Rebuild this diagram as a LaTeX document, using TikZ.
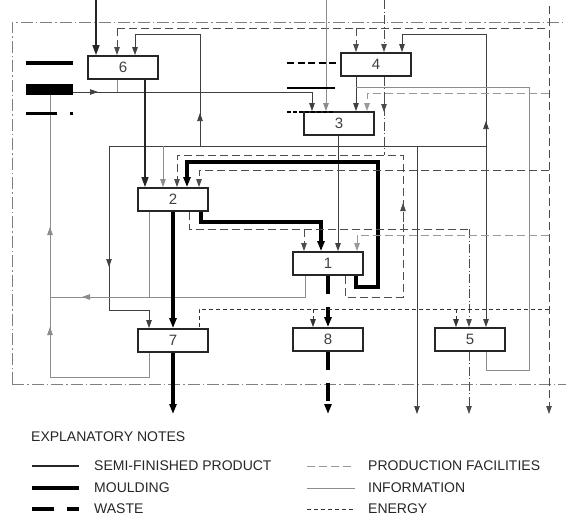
\documentclass[tikz,border=0pt]{standalone}
\usepackage{fontspec}
\setmainfont{Liberation Sans}
\usetikzlibrary{arrows.meta}
\pgfdeclarelayer{bg}
\pgfsetlayers{bg,main}
\begin{document}
\begin{tikzpicture}[x=1pt,y=-1pt,
  box/.style={draw=black!85, line width=1.8pt, fill=white, minimum width=70pt, minimum height=23pt, inner sep=0pt, font=\fontsize{15}{15}\selectfont, text=black!75},
  arr/.style={-{Triangle[length=8pt,width=5.5pt]}},
  arrM/.style={-{Triangle[length=10pt,width=7pt]}},
  semi/.style={line width=1.6pt, draw=black!85},
  mould/.style={line width=3.5pt, draw=black},
  waste/.style={line width=3.5pt, draw=black, dash pattern=on 18pt off 13pt},
  info/.style={line width=0.7pt, draw=black!75},
  infog/.style={line width=0.8pt, draw=black!45},
  pf/.style={line width=0.8pt, draw=black!70, dash pattern=on 8pt off 4pt},
  pfg/.style={line width=1pt, draw=black!40, dash pattern=on 8pt off 4pt},
  en/.style={line width=0.7pt, draw=black!80, dash pattern=on 4pt off 3pt},
  dd/.style={line width=0.8pt, draw=black!70, dash pattern=on 9pt off 2.5pt on 1pt off 2.5pt},
  frame/.style={line width=0.9pt, draw=black!50, dash pattern=on 12pt off 3pt on 1.5pt off 3pt},
  lbl/.style={anchor=west, inner sep=0pt, font=\fontsize{14}{14}\selectfont, text=black!85}
]
\useasboundingbox (0,0) rectangle (566,517);

% boxes
\node[box] (b6) at (123,67.5) {6};
\node[box] (b4) at (376,64.5) {4};
\node[box] (b3) at (339,123.5) {3};
\node[box] (b2) at (173,199.5) {2};
\node[box] (b1) at (328,263.5) {1};
\node[box] (b7) at (173,340.5) {7};
\node[box] (b8) at (328,339.5) {8};
\node[box] (b5) at (470,339.5) {5};

\begin{pgfonlayer}{bg}
% frame
\draw[frame] (12,384) -- (12,22) -- (563,22);
\draw[frame] (12,384) -- (566,384);

% top inputs
\draw[semi, arrM] (96,0) -- (96,0 |- b6.north);
\draw[pf] (117,28) -- (549,28);
\draw[pf, arr] (117,28) -- (117,0 |- b6.north);
\draw[pf, arr] (356,28) -- (356,0 |- b4.north);
\draw[pf, arr] (549,6) -- (549,414);
\draw[infog, arr] (326,0) -- (326,0 |- b3.north);
\draw[dd, arr] (384,0) -- (384,0 |- b4.north);
\draw[dd] (384,0 |- b4.south) -- (384,155);
\draw[dd, arr] (384,95) -- (384,112);

% information bus
\draw[info] (109,146) -- (486,146);
\draw[info, arr] (200,146) -- (200,34) -- (135,34) -- (135,0 |- b6.north);
\draw[info, arr] (200,135) -- (200,113);
\draw[info, arr] (486,146) -- (486,34) -- (402,34) -- (402,0 |- b4.north);
\draw[info, arr] (486,140) -- (486,121);
\draw[info, arr] (486,146) -- (486,0 |- b5.north);
\draw[info, arr] (109,146) -- (109,310) -- (149,310) -- (149,0 |- b7.north);
\draw[info, arr] (109,250) -- (109,267);
\draw[infog, arr] (163,146) -- (163,0 |- b2.north);
\draw[info, arr] (417,146) -- (417,414);

% into box 3
\draw[info] (73,92) -- (312,92);
\draw[info, arr] (312,92) -- (312,0 |- b3.north);
\draw[info, arr] (80,92) -- (98,92);
\draw[infog] (117,0 |- b6.south) -- (117,92);
\draw[info, arr] (356,0 |- b4.south) -- (356,0 |- b3.north);
\draw[infog] (486,0 |- b5.south) -- (486,370) -- (529,370) -- (529,87) -- (356,87);
\draw[pfg, arr] (549,93) -- (367,93) -- (367,0 |- b3.north);

% box 3 -> box 1
\draw[info, arr] (338,0 |- b3.south) -- (338,0 |- b1.north);

% box 6 -> box 2
\draw[semi, arrM] (145,0 |- b6.south) -- (145,0 |- b2.north);

% loops into box 2
\draw[pf, arr] (345,0 |- b1.south) -- (345,297) -- (403,297) -- (403,155) -- (177,155) -- (177,0 |- b2.north);
\draw[pf, arr] (403,222) -- (403,203);
\draw[mould, arrM] (356,0 |- b1.south) -- (356,287) -- (378,287) -- (378,162) -- (187,162) -- (187,0 |- b2.north);
\draw[pf, arr] (549,170) -- (199,170) -- (199,0 |- b2.north);

% box 2 -> box 1
\draw[mould, arrM] (201,0 |- b2.south) -- (201,222) -- (321,222) -- (321,0 |- b1.north);
\draw[pf] (189,0 |- b2.south) -- (189,229) -- (469,229);
\draw[pf, arr] (304,229) -- (304,0 |- b1.north);
\draw[dd, arr] (469,229) -- (469,0 |- b5.north);
\draw[dd, arr] (469,0 |- b5.south) -- (469,414);
\draw[pfg, arr] (549,235) -- (357,235) -- (357,0 |- b1.north);

% information feedback (grey)
\draw[infog] (305,0 |- b1.south) -- (305,297) -- (50,297);
\draw[infog, arr] (100,297) -- (82,297);
\draw[infog] (149,0 |- b2.south) -- (149,297);
\draw[infog] (149,0 |- b7.south) -- (149,377) -- (50,377) -- (50,95);
\draw[infog, arr] (50,245) -- (50,227);
\draw[infog, arr] (50,345) -- (50,327);

% moulding and waste
\draw[mould, arrM] (173,0 |- b2.south) -- (173,0 |- b7.north);
\draw[mould, arrM] (173,0 |- b7.south) -- (173,414);
\draw[waste, arrM] (328,0 |- b1.south) -- (328,0 |- b8.north);
\draw[waste, arrM] (328,0 |- b8.south) -- (328,414);

% energy
\draw[en] (549,309) -- (199,309) -- (199,0 |- b7.north);
\draw[en, arr] (313,309) -- (313,0 |- b8.north);
\draw[en, arr] (456,309) -- (456,0 |- b5.north);
\end{pgfonlayer}

% input markers
\fill[black] (26,61) rectangle (73,65);
\fill[black] (26,84) rectangle (73,95);
\fill[black] (26,111.5) rectangle (57,114.5);
\fill[black] (69.5,111.5) rectangle (72.5,114.5);
\draw[line width=2pt, dash pattern=on 7pt off 3.5pt] (287,63) -- (338,63);
\draw[line width=2.2pt] (287,88) -- (335,88);
\draw[line width=2pt, dash pattern=on 4pt off 2pt] (287,112) -- (333,112);

% legend
\node[lbl] (t0) at (31,437) {EXPLANATORY NOTES};
\node[lbl] (t1) at (94,466) {SEMI-FINISHED PRODUCT};
\node[lbl] (t2) at (94,488) {MOULDING};
\node[lbl] (t3) at (94,509) {WASTE};
\node[lbl] (t4) at (368,466) {PRODUCTION FACILITIES};
\node[lbl] (t5) at (368,488) {INFORMATION};
\node[lbl] (t6) at (368,509) {ENERGY};
\draw[semi] (32,466) -- (79,466);
\draw[mould] (32,488) -- (79,488);
\draw[waste, dash pattern=on 22pt off 13pt] (32,509) -- (79,509);
\draw[pfg] (307,466) -- (355,466);
\draw[infog] (307,488) -- (355,488);
\draw[en] (307,509) -- (355,509);
\end{tikzpicture}
\end{document}
